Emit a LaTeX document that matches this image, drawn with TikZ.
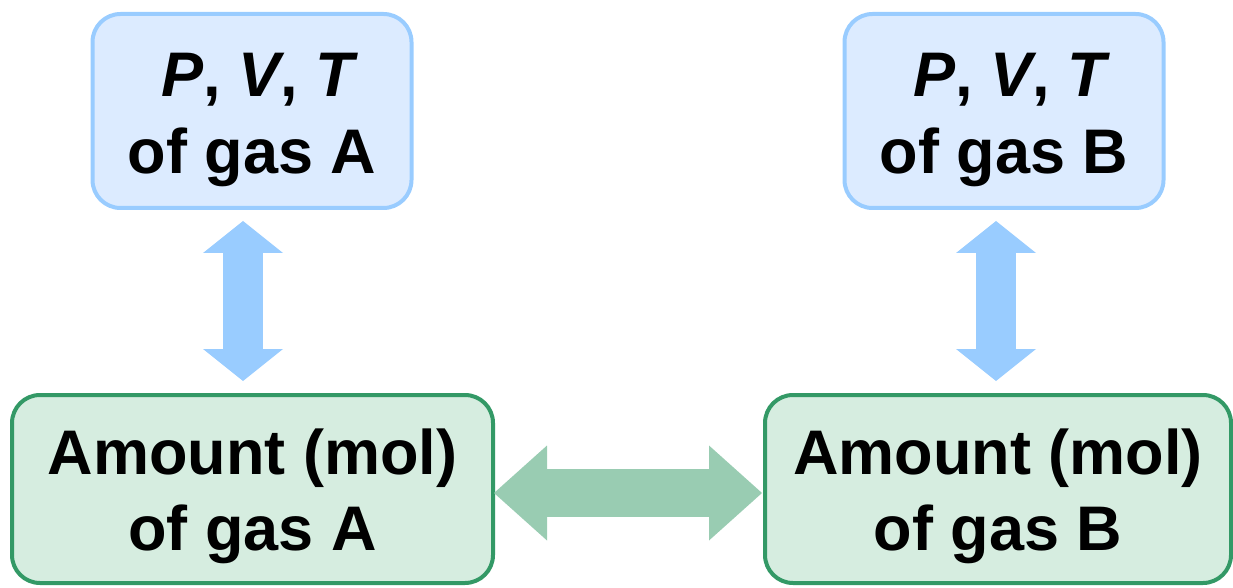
\documentclass[tikz,border=0pt]{standalone}
\usepackage{fontspec}
\setmainfont{Liberation Sans}
\usetikzlibrary{arrows.meta}
\definecolor{bluefill}{RGB}{220,235,255}
\definecolor{blueline}{RGB}{153,204,255}
\definecolor{greenfill}{RGB}{214,237,224}
\definecolor{greenline}{RGB}{51,153,102}
\definecolor{greenarrow}{RGB}{153,204,178}
\newcommand{\toppad}[1]{\rule{0pt}{#1}}
\tikzset{
  pvtbox/.style={draw=blueline, fill=bluefill, line width=4pt, rounded corners=28pt,
    minimum width=319pt, minimum height=194pt, inner sep=0pt, align=center,
    font=\fontsize{63}{77}\selectfont\bfseries},
  molbox/.style={draw=greenline, fill=greenfill, line width=4pt, rounded corners=28pt,
    minimum height=188pt, inner sep=0pt, align=center,
    font=\fontsize{63}{76}\selectfont\bfseries},
  vlink/.style={draw=blueline, line width=40pt,
    {Triangle[width=80pt,length=32pt,line width=0pt]}-{Triangle[width=80pt,length=32pt,line width=0pt]}},
  hlink/.style={draw=greenarrow, line width=48pt,
    {Triangle[width=95pt,length=53pt,line width=0pt]}-{Triangle[width=95pt,length=53pt,line width=0pt]}}
}
\begin{document}
\begin{tikzpicture}[x=1pt,y=1pt]
\useasboundingbox (0,0) rectangle (1233,587);
\node[pvtbox] (pa) at (252,476) {\toppad{61pt}\hspace*{16pt}\textit{P}, \textit{V}, \textit{T}\\ of gas A};
\node[pvtbox] (pb) at (1004,476) {\toppad{61pt}\hspace*{16pt}\textit{P}, \textit{V}, \textit{T}\\ of gas B};
\node[molbox, minimum width=481pt] (ma) at (252.5,98) {\toppad{60pt}Amount (mol)\\ of gas A};
\node[molbox, minimum width=466pt] (mb) at (998,98) {\toppad{60pt}Amount (mol)\\ of gas B};
\coordinate (pat) at (243,366);
\coordinate (mat) at (243,206);
\coordinate (pbt) at (996,366);
\coordinate (mbt) at (996,206);
\coordinate (hal) at (494,94);
\coordinate (hbr) at (762,94);
\draw[vlink] (pat) -- (mat);
\draw[vlink] (pbt) -- (mbt);
\draw[hlink] (hal) -- (hbr);
\end{tikzpicture}
\end{document}
